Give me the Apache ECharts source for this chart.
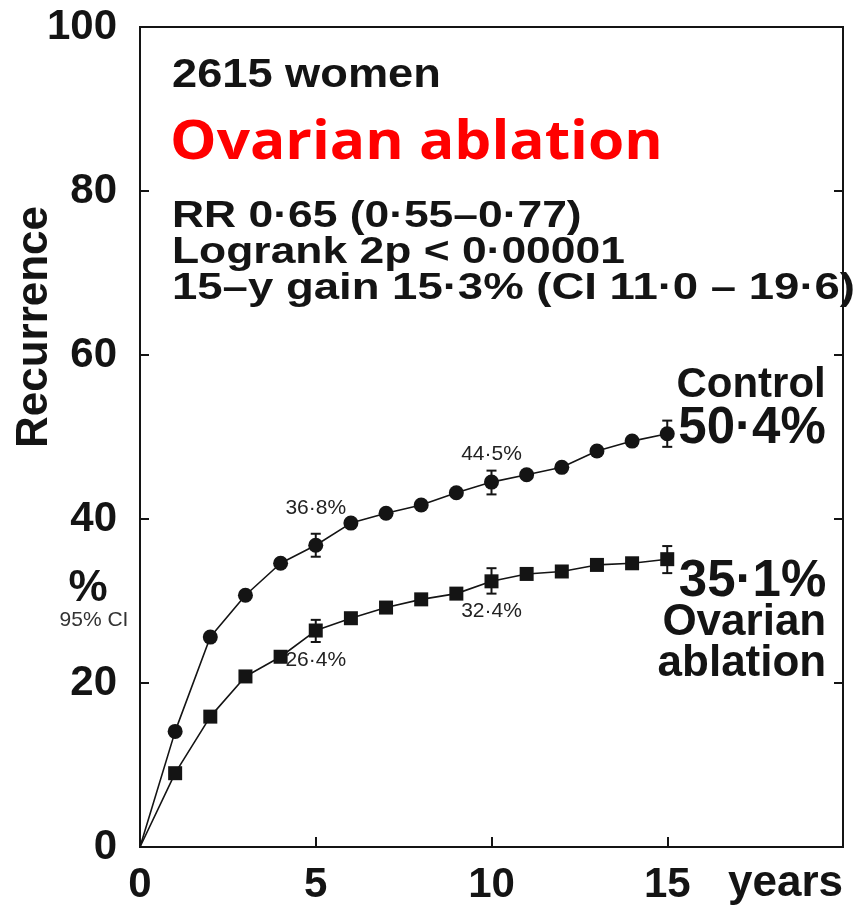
<!DOCTYPE html>
<html>
<head>
<meta charset="utf-8">
<script src="https://cdn.jsdelivr.net/npm/echarts@6/dist/echarts.min.js"></script>
<style>
  html, body { margin: 0; padding: 0; background: #ffffff; }
  #chart { width: 856px; height: 909px; }
</style>
</head>
<body>
<div id="chart"></div>
<script>
// Cumulative recurrence (%) by year of follow-up
const years = [0, 1, 2, 3, 4, 5, 6, 7, 8, 9, 10, 11, 12, 13, 14, 15];
const controlRecurrence = [0, 14.1, 25.6, 30.7, 34.6, 36.8, 39.5, 40.7, 41.7, 43.2, 44.5, 45.4, 46.3, 48.3, 49.5, 50.4];
const ablationRecurrence = [0, 9.0, 15.9, 20.8, 23.2, 26.4, 27.9, 29.2, 30.2, 30.9, 32.4, 33.3, 33.6, 34.4, 34.6, 35.1];

// 95% confidence intervals at 5, 10 and 15 years
const ciYears = [5, 10, 15];
const controlLow = [35.4, 43.0, 48.8];
const controlHigh = [38.2, 45.9, 52.0];
const ablationLow = [25.0, 30.9, 33.4];
const ablationHigh = [27.7, 34.0, 36.7];

// Axis tick labels
const xTickLabels = ['0', '5', '10', '15'];
const yTickLabels = ['0', '20', '40', '60', '80', '100'];

const FONT = '"Liberation Sans", Arial, Helvetica, sans-serif';
const INK = '#141414';

const fmtPct = v => String(v.toFixed(1)).replace('.', '\u00b7') + '%';

function buildSeriesData(values, labels) {
  return years.map((yr, i) => {
    const item = { value: [yr, values[i]] };
    if (yr === 0) item.symbol = 'none';
    if (labels[yr]) item.label = labels[yr];
    return item;
  });
}

const smallLabel = (pos, dist) => ({
  show: true, position: pos, distance: dist,
  fontFamily: FONT, fontSize: 21, color: '#222',
  formatter: p => fmtPct(p.value[1])
});

const controlLabels = {
  5: smallLabel('top', 19),
  10: smallLabel('top', 10),
  15: {
    show: true, position: [166, -19], align: 'right', verticalAlign: 'middle',
    formatter: p => '{w|Control}\n{n|' + fmtPct(p.value[1]) + '}',
    rich: {
      w: { fontFamily: FONT, fontWeight: 'bold', fontSize: 42, color: INK, lineHeight: 43, align: 'right' },
      n: { fontFamily: FONT, fontWeight: 'bold', fontSize: 51, color: INK, lineHeight: 43, align: 'right' }
    }
  }
};
const ablationLabels = {
  5: smallLabel('bottom', 12),
  10: smallLabel('bottom', 12),
  15: {
    show: true, position: [166, 71], align: 'right', verticalAlign: 'middle',
    formatter: p => '{n|' + fmtPct(p.value[1]) + '}\n{w|Ovarian}\n{w|ablation}',
    rich: {
      w: { fontFamily: FONT, fontWeight: 'bold', fontSize: 44, color: INK, lineHeight: 41, align: 'right' },
      n: { fontFamily: FONT, fontWeight: 'bold', fontSize: 51, color: INK, lineHeight: 41, align: 'right' }
    }
  }
};

function errorBarData(lows, highs) {
  return ciYears.map((yr, i) => [yr, lows[i], highs[i]]);
}

function renderErrorBar(params, api) {
  const lo = api.coord([api.value(0), api.value(1)]);
  const hi = api.coord([api.value(0), api.value(2)]);
  const half = 5;
  const style = { stroke: INK, lineWidth: 2 };
  return {
    type: 'group',
    children: [
      { type: 'line', shape: { x1: lo[0], y1: lo[1], x2: hi[0], y2: hi[1] }, style },
      { type: 'line', shape: { x1: lo[0] - half, y1: lo[1], x2: lo[0] + half, y2: lo[1] }, style },
      { type: 'line', shape: { x1: hi[0] - half, y1: hi[1], x2: hi[0] + half, y2: hi[1] }, style }
    ]
  };
}

function textEl(x, y, text, font, color, scaleX) {
  return {
    type: 'text', x: x, y: y, scaleX: scaleX || 1, originX: 0, originY: 0,
    style: { x: 0, y: 0, text: text, font: font, fill: color, textVerticalAlign: 'middle' }
  };
}

const chart = echarts.init(document.getElementById('chart'), null, { renderer: 'canvas' });

chart.setOption({
  backgroundColor: '#ffffff',
  animation: false,
  grid: {
    left: 140, right: 13, top: 27, bottom: 62,
    show: true, borderColor: INK, borderWidth: 2, backgroundColor: 'transparent'
  },
  xAxis: {
    type: 'value', min: 0, max: 20, interval: 5,
    axisLine: { show: false },
    splitLine: { show: false },
    axisTick: { show: true, inside: true, length: 10, lineStyle: { color: INK, width: 2 } },
    axisLabel: {
      margin: 17, fontFamily: FONT, fontWeight: 'bold', fontSize: 42, color: INK,
      formatter: v => xTickLabels[v / 5] !== undefined ? xTickLabels[v / 5] : ''
    }
  },
  yAxis: [
    {
      type: 'value', min: 0, max: 100, interval: 20, position: 'left',
      axisLine: { show: false },
      splitLine: { show: false },
      axisTick: { show: true, inside: true, length: 9, lineStyle: { color: INK, width: 2 } },
      axisLabel: {
        margin: 23, fontFamily: FONT, fontWeight: 'bold', fontSize: 42, color: INK,
        formatter: v => yTickLabels[v / 20]
      }
    },
    {
      type: 'value', min: 0, max: 100, interval: 20, position: 'right',
      axisLine: { show: false },
      splitLine: { show: false },
      axisTick: { show: true, inside: true, length: 9, lineStyle: { color: INK, width: 2 } },
      axisLabel: { show: false }
    }
  ],
  series: [
    {
      name: 'Control', type: 'line',
      data: buildSeriesData(controlRecurrence, controlLabels),
      symbol: 'circle', symbolSize: 15,
      lineStyle: { color: INK, width: 1.6 },
      itemStyle: { color: INK },
      z: 4
    },
    {
      name: 'Ovarian ablation', type: 'line',
      data: buildSeriesData(ablationRecurrence, ablationLabels),
      symbol: 'rect', symbolSize: 14,
      lineStyle: { color: INK, width: 1.6 },
      itemStyle: { color: INK },
      z: 4
    },
    { type: 'custom', data: errorBarData(controlLow, controlHigh), renderItem: renderErrorBar, z: 3 },
    { type: 'custom', data: errorBarData(ablationLow, ablationHigh), renderItem: renderErrorBar, z: 3 }
  ],
  graphic: [
    textEl(172, 76, '2615 women', 'bold 40px ' + FONT, INK, 1.13),
    textEl(170, 144, 'Ovarian ablation', 'bold 54px "Open Sans", Lato, sans-serif', '#ff0000', 1.085),
    textEl(172, 217, 'RR 0\u00b765 (0\u00b755\u20130\u00b777)', 'bold 37px ' + FONT, INK, 1.2),
    textEl(172, 253, 'Logrank 2p < 0\u00b700001', 'bold 37px ' + FONT, INK, 1.2),
    textEl(172, 289, '15\u2013y gain 15\u00b73% (CI 11\u00b70 \u2013 19\u00b76)', 'bold 37px ' + FONT, INK, 1.23),
    {
      type: 'text', x: 35, y: 327, rotation: Math.PI / 2,
      style: { text: 'Recurrence', font: 'bold 44px ' + FONT, fill: INK, textAlign: 'center', textVerticalAlign: 'middle' }
    },
    {
      type: 'text', x: 88, y: 589,
      style: { text: '%', font: 'bold 44px ' + FONT, fill: INK, textAlign: 'center', textVerticalAlign: 'middle' }
    },
    {
      type: 'text', x: 94, y: 620,
      style: { text: '95% CI', font: '21px ' + FONT, fill: '#333', textAlign: 'center', textVerticalAlign: 'middle' }
    },
    {
      type: 'text', x: 843, y: 884,
      style: { text: 'years', font: 'bold 44px ' + FONT, fill: INK, textAlign: 'right', textVerticalAlign: 'middle' }
    }
  ]
});
</script>
</body>
</html>
